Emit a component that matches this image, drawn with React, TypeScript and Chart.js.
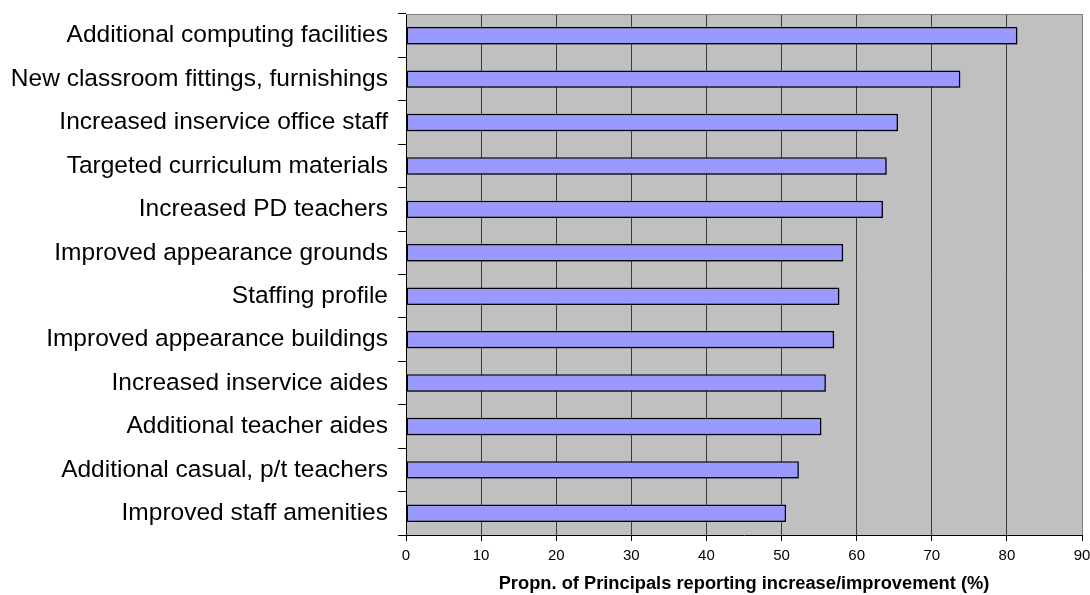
import React, { useEffect, useRef } from "react";
import Chart from "chart.js/auto";

// Survey items, listed top to bottom
const categories: string[] = [
  "Additional computing facilities",
  "New classroom fittings, furnishings",
  "Increased inservice office staff",
  "Targeted curriculum materials",
  "Increased PD teachers",
  "Improved appearance grounds",
  "Staffing profile",
  "Improved appearance buildings",
  "Increased inservice aides",
  "Additional teacher aides",
  "Additional casual, p/t teachers",
  "Improved staff amenities",
];

// Percentage of principals reporting an increase/improvement
const percentages: number[] = [81.4, 73.8, 65.5, 64.0, 63.5, 58.2, 57.7, 57.0, 55.9, 55.3, 52.3, 50.6];

const xTicks: number[] = [0, 10, 20, 30, 40, 50, 60, 70, 80, 90];

const axisTitle = "Propn. of Principals reporting increase/improvement (%)";

const FONT = "'Liberation Sans', Arial, sans-serif";

// Grey plot background plus the light frame along the top and right edges
const plotFrame = {
  id: "plotFrame",
  beforeDraw(chart: any) {
    const { ctx, chartArea } = chart;
    ctx.save();
    ctx.fillStyle = "#c0c0c0";
    ctx.fillRect(chartArea.left, chartArea.top, chartArea.right - chartArea.left, chartArea.bottom - chartArea.top);
    ctx.restore();
  },
  afterDraw(chart: any) {
    const { ctx, chartArea } = chart;
    ctx.save();
    ctx.strokeStyle = "#808080";
    ctx.lineWidth = 1;
    ctx.beginPath();
    ctx.moveTo(chartArea.left, chartArea.top + 0.5);
    ctx.lineTo(chartArea.right + 0.5, chartArea.top + 0.5);
    ctx.lineTo(chartArea.right + 0.5, chartArea.bottom);
    ctx.stroke();
    ctx.restore();
  },
};

// Soft drop shadow behind the bars
const barShadow = {
  id: "barShadow",
  beforeDatasetsDraw(chart: any) {
    const ctx = chart.ctx;
    ctx.save();
    ctx.shadowColor = "rgba(0,0,0,0.35)";
    ctx.shadowOffsetX = 2;
    ctx.shadowOffsetY = 2;
    ctx.shadowBlur = 1;
  },
  afterDatasetsDraw(chart: any) {
    chart.ctx.restore();
  },
};

export default function App() {
  const canvasRef = useRef<HTMLCanvasElement | null>(null);

  useEffect(() => {
    if (!canvasRef.current) return;
    const chart = new Chart(canvasRef.current, {
      type: "bar",
      data: {
        labels: categories,
        datasets: [
          {
            data: percentages,
            backgroundColor: "#9999ff",
            borderColor: "#000000",
            borderWidth: 1.5,
            borderSkipped: false,
            categoryPercentage: 1,
            barPercentage: 0.4,
          },
        ],
      },
      options: {
        indexAxis: "y",
        responsive: false,
        animation: false,
        layout: { padding: { top: 14, right: 8, left: 0, bottom: 0 } },
        plugins: {
          legend: { display: false },
          tooltip: { enabled: false },
        },
        scales: {
          x: {
            min: 0,
            max: 90,
            afterBuildTicks(scale: any) {
              scale.ticks = xTicks.map((v) => ({ value: v }));
            },
            afterFit(scale: any) {
              scale.height = 60;
              scale.paddingLeft = 0;
              scale.paddingRight = 0;
            },
            grid: {
              color: (c: any) => (c.tick && c.tick.value === 90 ? "#808080" : c.tick && c.tick.value === 0 ? "rgba(0,0,0,0)" : "#3a3a3a"),
              tickColor: "#000000",
              tickLength: 6,
              lineWidth: 1,
            },
            border: { color: "#000000", width: 1 },
            ticks: {
              color: "#000000",
              font: { family: FONT, size: 15 },
              padding: 6,
              maxRotation: 0,
            },
            title: {
              display: true,
              text: axisTitle,
              color: "#000000",
              font: { family: FONT, size: 18.3, weight: "bold" },
              padding: { top: 0, bottom: 0 },
            },
          },
          y: {
            afterFit(scale: any) {
              scale.width = 406;
              scale.paddingTop = 0;
              scale.paddingBottom = 0;
            },
            grid: {
              offset: true,
              drawOnChartArea: false,
              color: "#000000",
              tickColor: "#000000",
              tickLength: 8,
            },
            border: { color: "#000000", width: 1 },
            ticks: {
              color: "#000000",
              font: { family: FONT, size: 24.5 },
              padding: 10,
              autoSkip: false,
            },
          },
        },
      },
      plugins: [plotFrame, barShadow],
    });
    return () => chart.destroy();
  }, []);

  return (
    <div style={{ position: "fixed", left: 0, top: 0, width: 1090, height: 595, background: "#ffffff" }}>
      <canvas ref={canvasRef} width={1090} height={595} style={{ display: "block" }} />
    </div>
  );
}
